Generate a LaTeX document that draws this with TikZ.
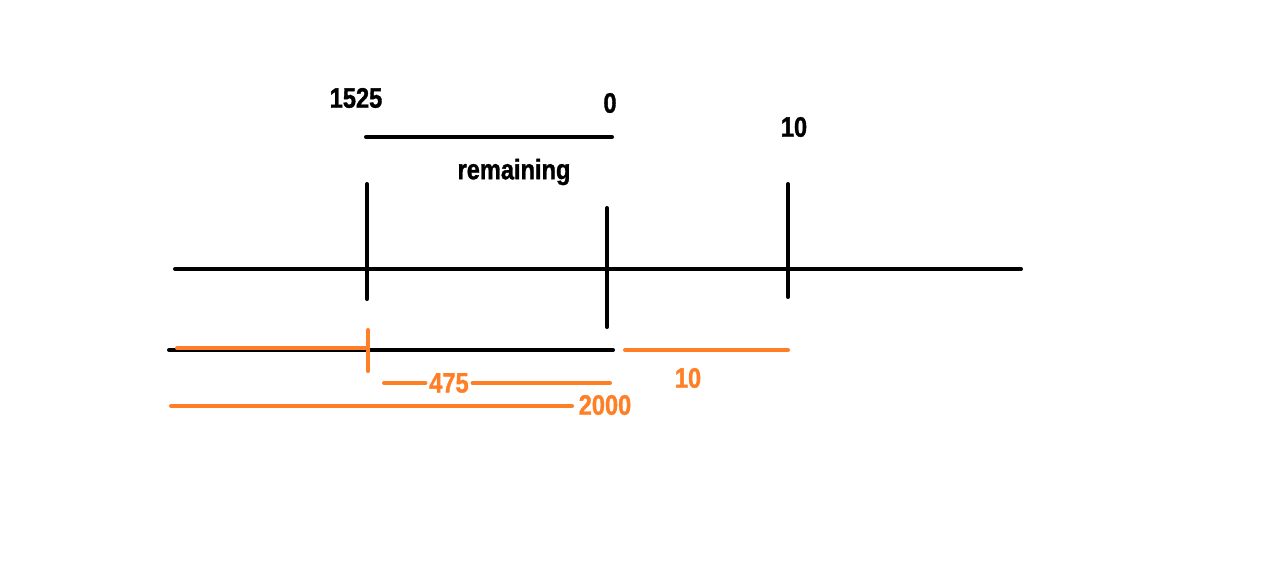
\documentclass[tikz,border=0pt]{standalone}
\usepackage{fontspec}
\setmainfont{Liberation Sans}[FakeStretch=0.84, BoldFeatures={FakeBold=1.2}]
\usepackage{xcolor}
\usepackage{tikz}
\usetikzlibrary{positioning}
\definecolor{paintorange}{RGB}{255,127,39}
\tikzset{
  blackline/.style={line width=2.3pt, line cap=round, black},
  orangeline/.style={line width=2.3pt, line cap=round, paintorange},
  numlabel/.style={font=\bfseries\fontsize{16}{18}\selectfont, inner sep=0pt},
}

\begin{document}
\begin{tikzpicture}[x=0.02cm, y=-0.02cm]
    \useasboundingbox (0,0) rectangle (1265,568);
    % axis and ticks
    \coordinate (axisL) at (175,269);
    \coordinate (axisR) at (1021,269);
    \draw[blackline] (axisL) -- (axisR);
    \draw[blackline] (367,184) coordinate (t1top) -- (367,299) coordinate (t1bot);
    \draw[blackline] (607,208) coordinate (t2top) -- (607,327) coordinate (t2bot);
    \draw[blackline] (788,184) coordinate (t3top) -- (788,297) coordinate (t3bot);
    % remaining span
    \draw[blackline] (366,137) coordinate (remL) -- (612,137) coordinate (remR);
    \node[numlabel] (start) at (356,98) {1525};
    \node[numlabel] (zero) at (610,103) {0};
    \node[numlabel] (ten) at (794,127) {10};
    \node[numlabel] (remaining) at (514,172) {remaining};
    % bottom spans
    \draw[blackline] (169,350) coordinate (botL) -- (613,350) coordinate (botR);
    \draw[orangeline] (177,348) -- (368,348);
    \draw[orangeline] (368,330) -- (368,371);
    \node[numlabel, text=paintorange, inner xsep=2pt] (diff) at (449,383) {475};
    \draw[orangeline] (384,383) -- (diff.west);
    \draw[orangeline] (diff.east) -- (610,383);
    \node[numlabel, text=paintorange] (total) at (605,405) {2000};
    \draw[orangeline] (171,406) -- (572,406);
    \draw[orangeline] (625,350) coordinate (stepL) -- (788,350) coordinate (stepR);
    \node[numlabel, text=paintorange] (step) at (688,378) {10};
\end{tikzpicture}
\end{document}
